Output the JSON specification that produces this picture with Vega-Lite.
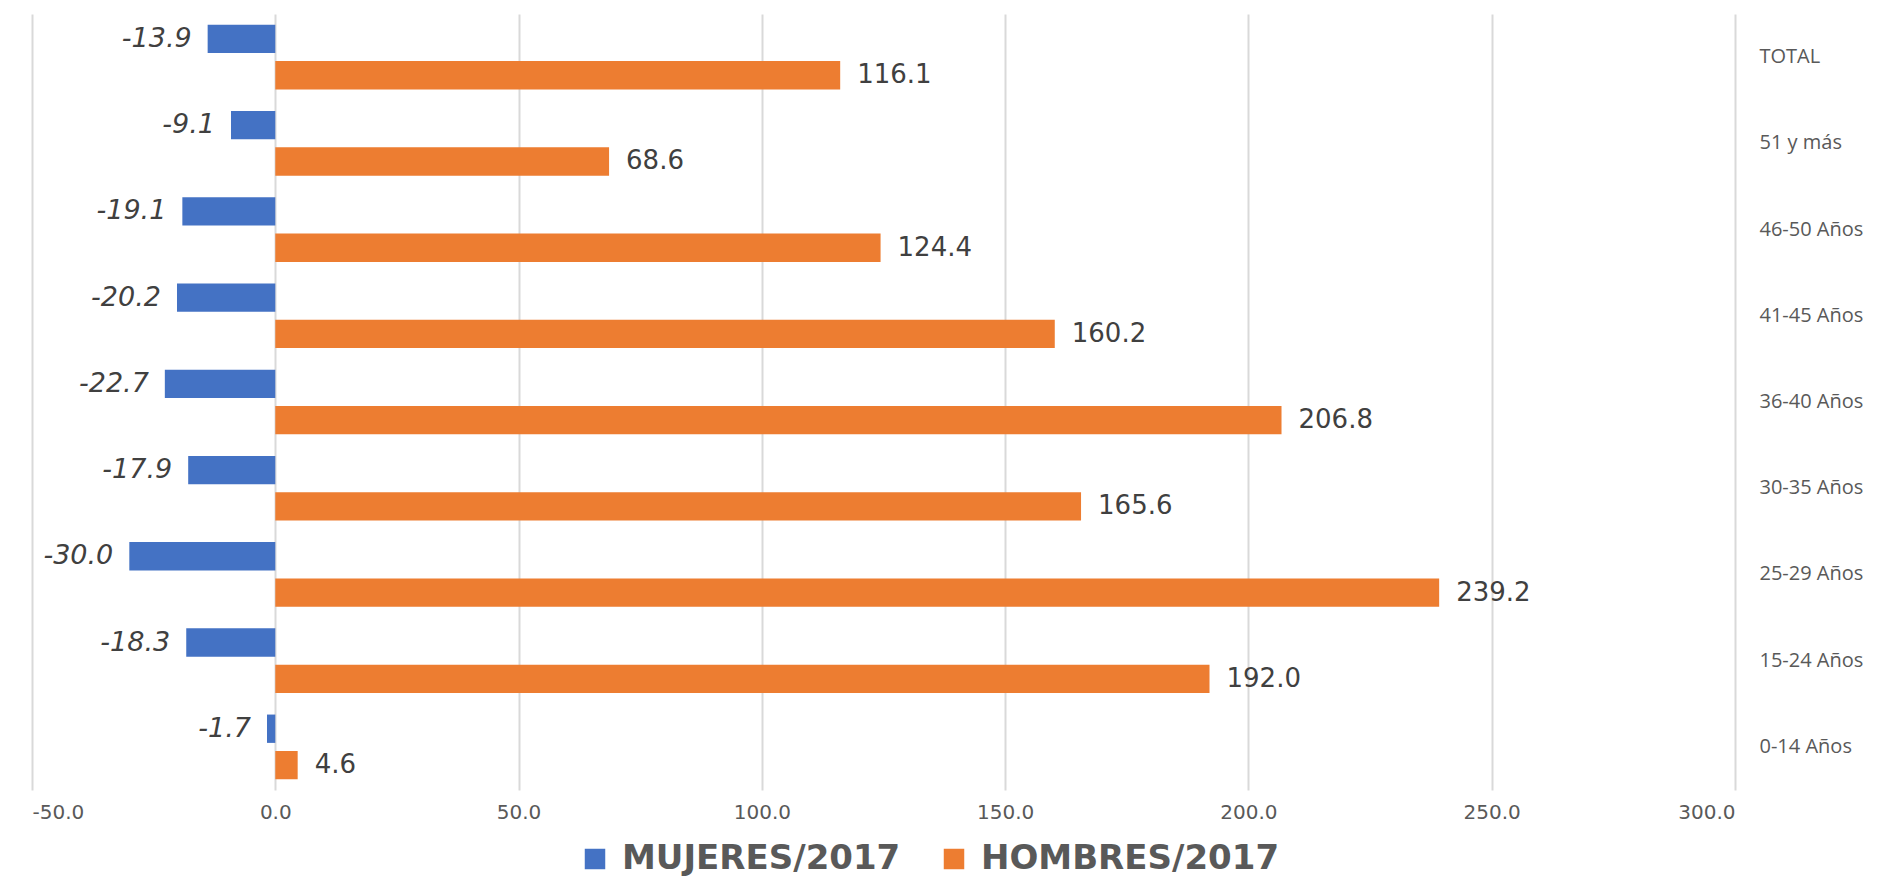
{
  "$schema": "https://vega.github.io/schema/vega-lite/v6.json",
  "width": 1703,
  "height": 776,
  "autosize": {"type": "none"},
  "padding": {"left": 32, "top": 14, "right": 146, "bottom": 87},
  "background": "white",
  "data": {
    "values": [
      {"grupo": "TOTAL", "serie": "MUJERES/2017", "valor": -13.9},
      {"grupo": "TOTAL", "serie": "HOMBRES/2017", "valor": 116.1},
      {"grupo": "51 y más", "serie": "MUJERES/2017", "valor": -9.1},
      {"grupo": "51 y más", "serie": "HOMBRES/2017", "valor": 68.6},
      {"grupo": "46-50 Años", "serie": "MUJERES/2017", "valor": -19.1},
      {"grupo": "46-50 Años", "serie": "HOMBRES/2017", "valor": 124.4},
      {"grupo": "41-45 Años", "serie": "MUJERES/2017", "valor": -20.2},
      {"grupo": "41-45 Años", "serie": "HOMBRES/2017", "valor": 160.2},
      {"grupo": "36-40 Años", "serie": "MUJERES/2017", "valor": -22.7},
      {"grupo": "36-40 Años", "serie": "HOMBRES/2017", "valor": 206.8},
      {"grupo": "30-35 Años", "serie": "MUJERES/2017", "valor": -17.9},
      {"grupo": "30-35 Años", "serie": "HOMBRES/2017", "valor": 165.6},
      {"grupo": "25-29 Años", "serie": "MUJERES/2017", "valor": -30.0},
      {"grupo": "25-29 Años", "serie": "HOMBRES/2017", "valor": 239.2},
      {"grupo": "15-24 Años", "serie": "MUJERES/2017", "valor": -18.3},
      {"grupo": "15-24 Años", "serie": "HOMBRES/2017", "valor": 192.0},
      {"grupo": "0-14 Años", "serie": "MUJERES/2017", "valor": -1.7},
      {"grupo": "0-14 Años", "serie": "HOMBRES/2017", "valor": 4.6}
    ]
  },
  "encoding": {
    "y": {
      "field": "grupo",
      "type": "nominal",
      "sort": ["TOTAL", "51 y más", "46-50 Años", "41-45 Años", "36-40 Años", "30-35 Años", "25-29 Años", "15-24 Años", "0-14 Años"],
      "scale": {"paddingInner": 0.25, "paddingOuter": 0.125},
      "axis": {
        "orient": "right",
        "title": null,
        "domain": false,
        "ticks": false,
        "labelAlign": "left",
        "labelPadding": 24,
        "labelFont": "Open Sans",
        "labelFontSize": 20,
        "labelColor": "#595959"
      }
    },
    "yOffset": {
      "field": "serie",
      "type": "nominal",
      "sort": ["MUJERES/2017", "HOMBRES/2017"],
      "scale": {"paddingInner": 0.22, "paddingOuter": 0}
    },
    "x": {
      "field": "valor",
      "type": "quantitative",
      "scale": {"domain": [-50, 300], "nice": false, "zero": false},
      "axis": {
        "title": null,
        "values": [-50, 0, 50, 100, 150, 200, 250, 300],
        "format": ".1f",
        "labelExpr": "replace(datum.label, '\u2212', '-')",
        "domain": false,
        "ticks": false,
        "grid": true,
        "gridColor": "#D9D9D9",
        "gridWidth": 2,
        "labelPadding": 12,
        "labelFont": "DejaVu Sans",
        "labelFontSize": 20,
        "labelColor": "#595959"
      }
    }
  },
  "layer": [
    {
      "mark": {"type": "bar"},
      "encoding": {
        "color": {
          "field": "serie",
          "type": "nominal",
          "scale": {"domain": ["MUJERES/2017", "HOMBRES/2017"], "range": ["#4472C4", "#ED7D31"]},
          "legend": {
            "orient": "none",
            "legendX": 546,
            "legendY": 828,
            "direction": "horizontal",
            "title": null,
            "symbolType": "square",
            "symbolSize": 420,
            "symbolStrokeWidth": 0,
            "labelFont": "DejaVu Sans",
            "labelFontWeight": "bold",
            "labelFontSize": 34,
            "labelColor": "#595959",
            "labelOffset": 10,
            "columnPadding": 36,
            "labelLimit": 500
          }
        }
      }
    },
    {
      "transform": [{"filter": "datum.valor >= 0"}],
      "mark": {"type": "text", "align": "left", "baseline": "middle", "dx": 17, "font": "DejaVu Sans", "fontSize": 26, "color": "#404040"},
      "encoding": {"text": {"field": "valor", "type": "quantitative", "format": ".1f"}}
    },
    {
      "transform": [{"filter": "datum.valor < 0"}],
      "mark": {"type": "text", "align": "right", "baseline": "middle", "dx": -16, "font": "DejaVu Sans", "fontStyle": "italic", "fontSize": 27, "color": "#404040", "text": {"expr": "replace(format(datum.valor, '.1f'), '\u2212', '-')"}},
      "encoding": {}
    }
  ],
  "config": {"view": {"stroke": null}}
}
